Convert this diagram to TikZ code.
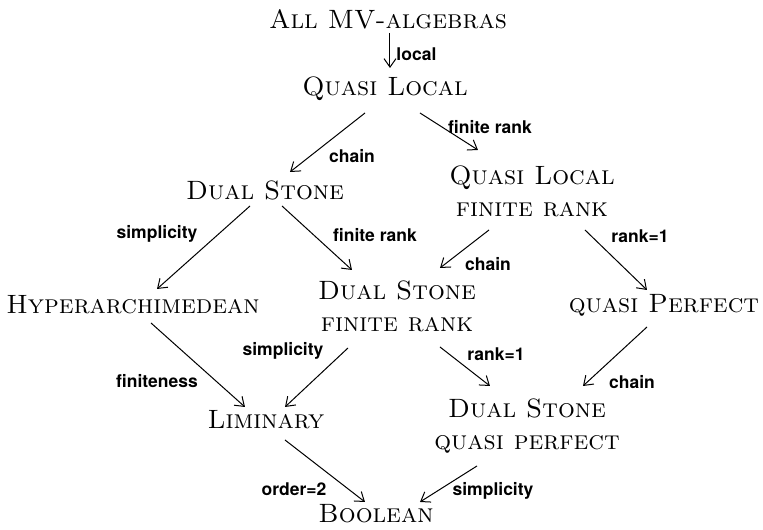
\documentclass[tikz,border=0pt]{standalone}
\usepackage{fontspec}
\newfontfamily\lblfont{TeX Gyre Heros}
\usetikzlibrary{arrows.meta,calc}
\begin{document}
\begin{tikzpicture}[x=0.4pt,y=-0.4pt,
  txt/.style={font=\fontsize{10.6}{12.8}\selectfont, inner sep=0pt, align=center},
  lbl/.style={font=\fontsize{7}{8}\lblfont\bfseries, inner sep=0pt, anchor=base},
  arr/.style={-{Straight Barb[length=3.4pt,width=4.8pt]}, line width=0.4pt}]
\useasboundingbox (0,0) rectangle (763,530);
% nodes
\node[txt] (all)  at (388,19)  {\textsc{All MV-algebras}};
\node[txt] (ql)   at (385,89)  {\textsc{Quasi Local}};
\node[txt] (ds)   at (265,190) {\textsc{Dual Stone}};
\node[txt] (qlf)  at (532,191) {\textsc{Quasi Local}\\\textsc{finite rank}};
\node[txt] (hyp)  at (133,305) {\textsc{Hyperarchimedean}};
\node[txt] (dsf)  at (397,306) {\textsc{Dual Stone}\\\textsc{finite rank}};
\node[txt] (qp)   at (664,305) {\textsc{quasi Perfect}};
\node[txt] (lim)  at (266,420) {\textsc{Liminary}};
\node[txt] (dsq)  at (527,426) {\textsc{Dual Stone}\\\textsc{quasi perfect}};
\node[txt] (bool) at (376,514) {\textsc{Boolean}};
% arrows
\draw[arr] ($(all)+(2,14)$)   -- ($(ql)+(5,-21)$);
\draw[arr] ($(ql)+(-20,24)$)  -- ($(ds)+(25,-18)$);
\draw[arr] ($(ql)+(35,24)$)   -- ($(qlf)+(-54,-41)$);
\draw[arr] ($(ds)+(-15,16)$)  -- ($(hyp)+(24,-16)$);
\draw[arr] ($(ds)+(17,16)$)   -- ($(dsf)+(-45,-36)$);
\draw[arr] ($(qlf)+(-43,39)$) -- ($(dsf)+(43,-38)$);
\draw[arr] ($(qlf)+(53,39)$)  -- ($(qp)+(-17,-15)$);
\draw[arr] ($(hyp)+(18,18)$)  -- ($(lim)+(-21,-13)$);
\draw[arr] ($(dsf)+(-49,42)$) -- ($(lim)+(19,-13)$);
\draw[arr] ($(dsf)+(43,41)$)  -- ($(dsq)+(-37,-40)$);
\draw[arr] ($(qp)+(-17,22)$)  -- ($(dsq)+(56,-40)$);
\draw[arr] ($(lim)+(19,20)$)  -- ($(bool)+(-11,-12)$);
\draw[arr] ($(dsq)+(-50,40)$) -- ($(bool)+(44,-12)$);
% labels
\node[lbl, anchor=base west] (l1) at (396,61) {local};
\node[lbl] (l2)  at (352,163) {chain};
\node[lbl] (l3)  at (490,134) {finite rank};
\node[lbl] (l4)  at (157,239) {simplicity};
\node[lbl] (l5)  at (375,242) {finite rank};
\node[lbl] (l6)  at (488,271) {chain};
\node[lbl] (l7)  at (640,243) {rank=1};
\node[lbl] (l8)  at (157,388) {finiteness};
\node[lbl] (l9)  at (283,356) {simplicity};
\node[lbl] (l10) at (496,361) {rank=1};
\node[lbl] (l11) at (632,389) {chain};
\node[lbl] (l12) at (294,496) {order=2};
\node[lbl] (l13) at (493,496) {simplicity};
\end{tikzpicture}
\end{document}
